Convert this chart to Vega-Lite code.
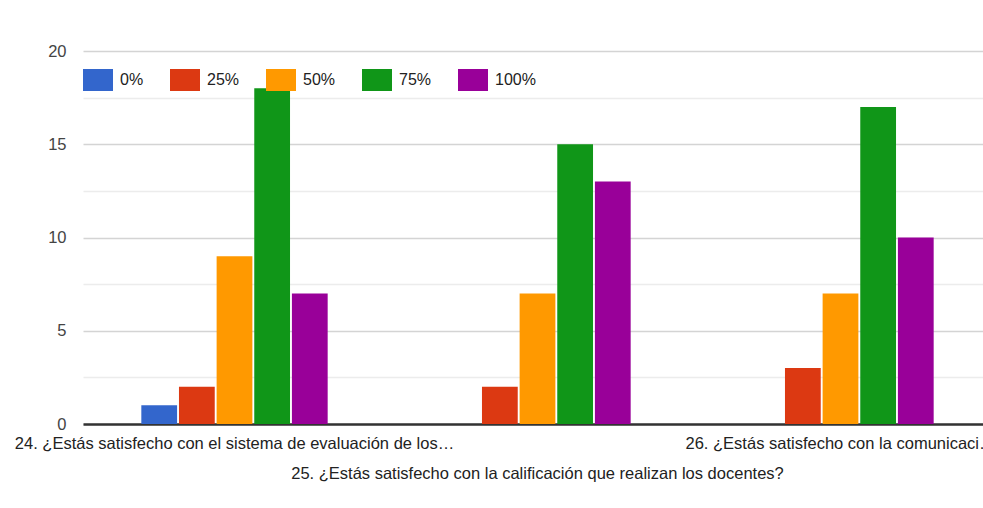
{
  "$schema": "https://vega.github.io/schema/vega-lite/v6.json",
  "width": 900,
  "height": 373,
  "autosize": {"type": "none"},
  "padding": {"left": 83, "top": 51, "right": 0, "bottom": 84},
  "background": "white",
  "config": {"view": {"stroke": null}, "font": "Liberation Sans"},
  "data": {
    "values": [
      {"pregunta": "24. ¿Estás satisfecho con el sistema de evaluación de los…", "respuesta": "0%", "n": 1},
      {"pregunta": "24. ¿Estás satisfecho con el sistema de evaluación de los…", "respuesta": "25%", "n": 2},
      {"pregunta": "24. ¿Estás satisfecho con el sistema de evaluación de los…", "respuesta": "50%", "n": 9},
      {"pregunta": "24. ¿Estás satisfecho con el sistema de evaluación de los…", "respuesta": "75%", "n": 18},
      {"pregunta": "24. ¿Estás satisfecho con el sistema de evaluación de los…", "respuesta": "100%", "n": 7},
      {"pregunta": "25. ¿Estás satisfecho con la calificación que realizan los docentes?", "respuesta": "0%", "n": 0},
      {"pregunta": "25. ¿Estás satisfecho con la calificación que realizan los docentes?", "respuesta": "25%", "n": 2},
      {"pregunta": "25. ¿Estás satisfecho con la calificación que realizan los docentes?", "respuesta": "50%", "n": 7},
      {"pregunta": "25. ¿Estás satisfecho con la calificación que realizan los docentes?", "respuesta": "75%", "n": 15},
      {"pregunta": "25. ¿Estás satisfecho con la calificación que realizan los docentes?", "respuesta": "100%", "n": 13},
      {"pregunta": "26. ¿Estás satisfecho con la comunicaci…", "respuesta": "0%", "n": 0},
      {"pregunta": "26. ¿Estás satisfecho con la comunicaci…", "respuesta": "25%", "n": 3},
      {"pregunta": "26. ¿Estás satisfecho con la comunicaci…", "respuesta": "50%", "n": 7},
      {"pregunta": "26. ¿Estás satisfecho con la comunicaci…", "respuesta": "75%", "n": 17},
      {"pregunta": "26. ¿Estás satisfecho con la comunicaci…", "respuesta": "100%", "n": 10}
    ]
  },
  "mark": {"type": "bar"},
  "encoding": {
    "x": {
      "field": "pregunta",
      "type": "nominal",
      "sort": null,
      "scale": {"range": [0, 909], "paddingInner": 0.385, "paddingOuter": 0.1925},
      "axis": {
        "title": null,
        "labelAngle": 0,
        "ticks": false,
        "domainColor": "#333333",
        "domainWidth": 2.5,
        "labelPadding": 24,
        "labelFontSize": 16.5,
        "labelColor": "#222222",
        "labelLimit": 1000,
        "labelLineHeight": 30,
        "labelBaseline": "alphabetic",
        "labelOverlap": false,
        "labelBound": false,
        "labelFlush": false,
        "labelExpr": "datum.index > 0.4 && datum.index < 0.6 ? ['', datum.label] : datum.label"
      }
    },
    "xOffset": {
      "field": "respuesta",
      "type": "nominal",
      "sort": ["0%", "25%", "50%", "75%", "100%"],
      "scale": {"paddingInner": 0.05}
    },
    "y": {
      "field": "n",
      "type": "quantitative",
      "scale": {"domain": [0, 20]},
      "axis": {
        "title": null,
        "values": [0, 2.5, 5, 7.5, 10, 12.5, 15, 17.5, 20],
        "labelExpr": "datum.value % 5 === 0 ? datum.label : ''",
        "ticks": false,
        "domain": false,
        "labelPadding": 17,
        "labelFontSize": 16.5,
        "labelColor": "#444444",
        "gridColor": {"condition": {"test": "datum.value % 5 !== 0", "value": "#ececec"}, "value": "#d4d4d4"},
        "gridWidth": 1.5
      }
    },
    "color": {
      "field": "respuesta",
      "type": "nominal",
      "sort": ["0%", "25%", "50%", "75%", "100%"],
      "scale": {
        "domain": ["0%", "25%", "50%", "75%", "100%"],
        "range": ["#3366cc", "#dc3912", "#ff9900", "#109618", "#990099"]
      },
      "legend": {
        "title": null,
        "orient": "none",
        "legendX": 0,
        "legendY": 14,
        "direction": "horizontal",
        "symbolType": "M-1,-0.733H1V0.733H-1Z",
        "symbolSize": 900,
        "symbolStrokeWidth": 0,
        "symbolOpacity": 1,
        "labelFontSize": 16,
        "labelColor": "#222222",
        "labelOffset": 7,
        "columnPadding": 26,
        "padding": 0
      }
    }
  }
}
